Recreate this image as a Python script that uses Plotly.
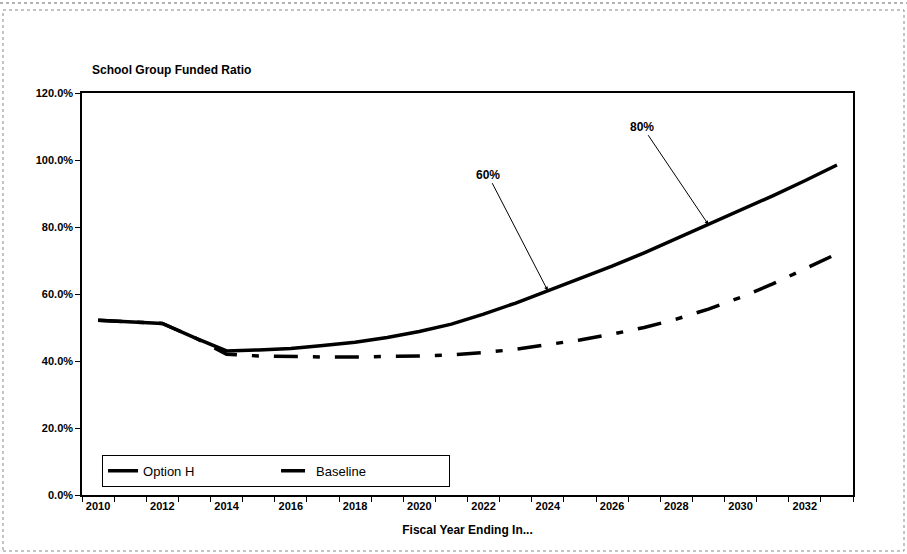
import plotly.graph_objects as go

years = list(range(2010, 2034))
option_h = [52.2, 51.7, 51.2, 47.0, 43.0, 43.3, 43.7, 44.6, 45.6, 47.0, 48.8, 51.0,
            54.0, 57.3, 61.0, 64.5, 68.3, 72.3, 76.5, 80.7, 85.0, 89.3, 93.8, 98.5]
baseline = [52.2, 51.7, 51.2, 47.0, 42.0, 41.5, 41.3, 41.2, 41.2, 41.3, 41.5, 41.8,
            42.5, 43.5, 44.8, 46.3, 48.0, 50.0, 52.5, 55.5, 59.0, 63.0, 67.5, 72.0]
tick_years = years[::2]
y_ticks = [0, 20, 40, 60, 80, 100, 120]

title = "School Group Funded Ratio"
x_title = "Fiscal Year Ending In..."

fig = go.Figure()
fig.add_trace(go.Scatter(x=years, y=baseline, mode="lines", name="Baseline",
                         line=dict(color="black", width=3.5, dash="24px,15px,7px,15px")))
fig.add_trace(go.Scatter(x=years, y=option_h, mode="lines", name="Option H",
                         line=dict(color="black", width=3.5)))

font_main = "Arial, Liberation Sans, sans-serif"
font_narrow = "Liberation Sans Narrow, Arial Narrow, Arial, Liberation Sans, sans-serif"

fig.update_layout(
    width=907, height=554,
    margin=dict(l=82, r=54, t=93, b=59),
    paper_bgcolor="white", plot_bgcolor="white",
    showlegend=True,
    legend=dict(orientation="h", x=0.026, y=0.1, xanchor="left", yanchor="top",
                bordercolor="black", borderwidth=1, bgcolor="white",
                traceorder="reversed",
                entrywidth=128, entrywidthmode="pixels",
                font=dict(family=font_narrow, size=13, color="black")),
    title=dict(text="<b>" + title + "</b>", x=92/907, xanchor="left", xref="container",
               y=(554-70)/554, yref="container", yanchor="middle",
               font=dict(family=font_narrow, size=12, color="black")),
    xaxis=dict(range=[2009.5, 2033.5], tickmode="array", tickvals=tick_years,
               ticktext=["<b>%d</b>" % y for y in tick_years], ticks="",
               showgrid=False, zeroline=False, showline=True, linecolor="black",
               linewidth=1.5, mirror=True,
               tickfont=dict(family=font_main, size=11, color="black"),
               minor=dict(tickmode="array", tickvals=[y - 0.5 for y in years] + [2033.5],
                          ticks="outside", ticklen=5, tickcolor="black", tickwidth=1,
                          showgrid=False),
               title=dict(text="<b>" + x_title + "</b>", standoff=15,
                          font=dict(family=font_narrow, size=12, color="black"))),
    yaxis=dict(range=[0, 120], tickmode="array", tickvals=y_ticks,
               ticktext=["<b>%.1f%%</b>" % v for v in y_ticks],
               ticks="outside", ticklen=5, tickcolor="black",
               showgrid=False, zeroline=False, showline=True, linecolor="black",
               linewidth=1.5, mirror=True,
               tickfont=dict(family=font_main, size=11, color="black")),
)

# annotations with arrows
fig.add_annotation(x=years[14], y=option_h[14], text="<b>60%</b>", showarrow=True,
                   axref="pixel", ayref="pixel", ax=-60, ay=-116,
                   arrowhead=2, arrowsize=0.8, arrowwidth=1, arrowcolor="black",
                   font=dict(family=font_main, size=12, color="black"))
fig.add_annotation(x=years[19], y=option_h[19], text="<b>80%</b>", showarrow=True,
                   axref="pixel", ayref="pixel", ax=-66, ay=-98,
                   arrowhead=2, arrowsize=0.8, arrowwidth=1, arrowcolor="black",
                   font=dict(family=font_main, size=12, color="black"))

# outer frame of the scanned page
fig.add_shape(type="rect", xref="paper", yref="paper",
              x0=(3-82)/771, x1=(904-82)/771, y0=(495-551)/402, y1=(495-10)/402,
              line=dict(color="#888888", width=1, dash="dot"))
fig.add_shape(type="line", xref="paper", yref="paper",
              x0=(0-82)/771, x1=(907-82)/771, y0=(495-3)/402, y1=(495-3)/402,
              line=dict(color="#666666", width=1, dash="dot"))

fig.write_html("out.html")
